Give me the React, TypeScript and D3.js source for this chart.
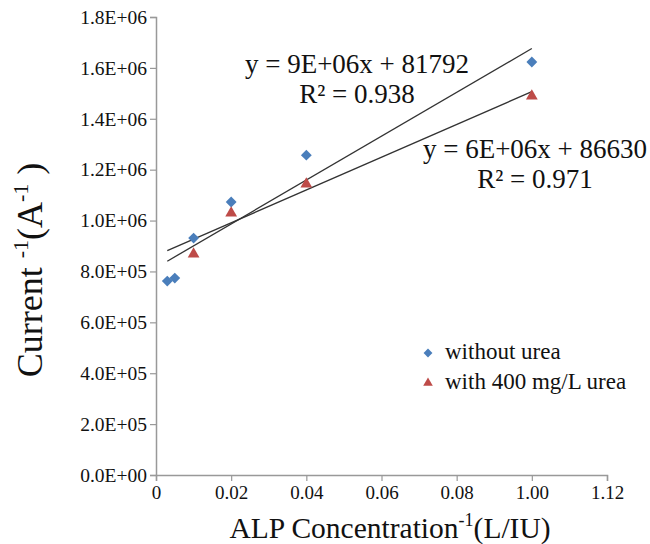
import { useEffect, useRef } from "react";
import * as d3 from "d3";

// data
const xWithout = [0.003, 0.005, 0.01, 0.02, 0.04, 0.1];
const yWithout = [762000, 774000, 931000, 1073000, 1257000, 1623000];
const xWith = [0.01, 0.02, 0.04, 0.1];
const yWith = [872000, 1033000, 1147000, 1493000];

const xTicks = [0, 0.02, 0.04, 0.06, 0.08, 0.1, 0.12];
const xTickLabels = ["0", "0.02", "0.04", "0.06", "0.08", "1.00", "1.12"];
const yTicks = [0, 200000, 400000, 600000, 800000, 1000000, 1200000, 1400000, 1600000, 1800000];

const eqWithout = ["y = 9E+06x + 81792", "R² = 0.938"];
const eqWith = ["y = 6E+06x + 86630", "R² = 0.971"];
const legendLabels = ["without urea", "with 400 mg/L urea"];

const blue = "#4a7ebb";
const red = "#be4b48";
const font = "Liberation Serif";

const sci = (v: number) => {
  if (v === 0) return "0.0E+00";
  const e = Math.floor(Math.log10(v));
  const m = v / Math.pow(10, e);
  return m.toFixed(1) + "E+" + String(e).padStart(2, "0");
};

const fit = (xs: number[], ys: number[]) => {
  const mx = d3.mean(xs) as number;
  const my = d3.mean(ys) as number;
  let sxy = 0, sxx = 0;
  xs.forEach((x, i) => {
    sxy += (x - mx) * (ys[i] - my);
    sxx += (x - mx) * (x - mx);
  });
  const b = sxy / sxx;
  return { b, a: my - b * mx };
};

export default function App() {
  const svgRef = useRef<SVGSVGElement>(null);

  useEffect(() => {
    const svg = d3.select(svgRef.current);
    svg.selectAll("*").remove();

    const x = d3.scaleLinear().domain([0, 0.12]).range([156, 607]);
    const y = d3.scaleLinear().domain([0, 1800000]).range([475, 17]);

    // y axis
    const yAxis = svg.append("g")
      .attr("transform", "translate(156,0)")
      .call(d3.axisLeft(y).tickValues(yTicks).tickFormat(d => sci(+d)).tickSize(6).tickPadding(3));
    yAxis.attr("font-family", null).attr("font-size", null);
    yAxis.select(".domain").attr("stroke", "#999").attr("stroke-width", 1.5);
    yAxis.selectAll(".tick line").attr("stroke", "#999").attr("stroke-width", 1.2);
    yAxis.selectAll("text")
      .style("font-family", font).style("font-size", "19.5px").attr("fill", "#111");

    // x axis
    const xAxis = svg.append("g")
      .attr("transform", "translate(0,475)")
      .call(d3.axisBottom(x).tickValues(xTicks).tickFormat((_, i) => xTickLabels[i]).tickSize(6).tickPadding(5));
    xAxis.attr("font-family", null).attr("font-size", null);
    xAxis.select(".domain").attr("stroke", "#999").attr("stroke-width", 1.5);
    xAxis.selectAll(".tick line").attr("stroke", "#999").attr("stroke-width", 1.2);
    xAxis.selectAll("text")
      .style("font-family", font).style("font-size", "19px").attr("fill", "#111");

    // trend lines
    const x0 = d3.min(xWithout) as number;
    const x1 = d3.max(xWithout) as number;
    [fit(xWithout, yWithout), fit(xWith, yWith)].forEach(f => {
      svg.append("line")
        .attr("x1", x(x0)).attr("y1", y(f.a + f.b * x0))
        .attr("x2", x(x1)).attr("y2", y(f.a + f.b * x1))
        .attr("stroke", "#333").attr("stroke-width", 1.3);
    });

    const diamond = d3.symbol().type(d3.symbolDiamond2).size(75);
    const triangle = d3.symbol().type(d3.symbolTriangle).size(60);

    svg.append("g").selectAll("path")
      .data(xWithout)
      .join("path")
      .attr("d", diamond)
      .attr("transform", (d, i) => `translate(${x(d)},${y(yWithout[i])})`)
      .attr("fill", blue);

    svg.append("g").selectAll("path")
      .data(xWith)
      .join("path")
      .attr("d", triangle)
      .attr("transform", (d, i) => `translate(${x(d)},${y(yWith[i]) + 1})`)
      .attr("fill", red);

    // equations
    const eq = (lines: string[], cx: number, by: number) => {
      lines.forEach((t, i) => {
        svg.append("text")
          .text(t)
          .attr("x", cx).attr("y", by + i * 30)
          .attr("text-anchor", "middle")
          .style("font-family", font).style("font-size", "27px").attr("fill", "#111");
      });
    };
    eq(eqWithout, 357, 73);
    eq(eqWith, 535, 158);

    // legend
    const leg = svg.append("g");
    leg.append("path").attr("d", d3.symbol().type(d3.symbolDiamond2).size(50))
      .attr("transform", "translate(428,353)").attr("fill", blue);
    leg.append("path").attr("d", d3.symbol().type(d3.symbolTriangle).size(40))
      .attr("transform", "translate(428,383)").attr("fill", red);
    legendLabels.forEach((t, i) => {
      leg.append("text").text(t)
        .attr("x", 445).attr("y", 359 + i * 30)
        .style("font-family", font).style("font-size", "23px").attr("fill", "#111");
    });

    // axis titles
    const xt = svg.append("text")
      .attr("x", 390).attr("y", 538)
      .attr("text-anchor", "middle")
      .style("font-family", font).style("font-size", "29.5px").attr("fill", "#111");
    xt.append("tspan").text("ALP Concentration");
    xt.append("tspan").text("-1").style("font-size", "18px").attr("dy", -12);
    xt.append("tspan").text("(L/IU)").attr("dy", 12);

    const yt = svg.append("text")
      .attr("transform", "translate(42,270) rotate(-90)")
      .attr("text-anchor", "middle")
      .style("font-family", font).style("font-size", "36px").attr("fill", "#111");
    yt.append("tspan").text("Current ");
    yt.append("tspan").text("-1").style("font-size", "22px").attr("dy", -14);
    yt.append("tspan").text("(A").attr("dy", 14);
    yt.append("tspan").text("-1").style("font-size", "22px").attr("dy", -14);
    yt.append("tspan").text(" )").attr("dy", 14);
  }, []);

  return (
    <svg
      ref={svgRef}
      width={650}
      height={544}
      style={{ position: "absolute", left: 0, top: 0, background: "#fff" }}
    />
  );
}
